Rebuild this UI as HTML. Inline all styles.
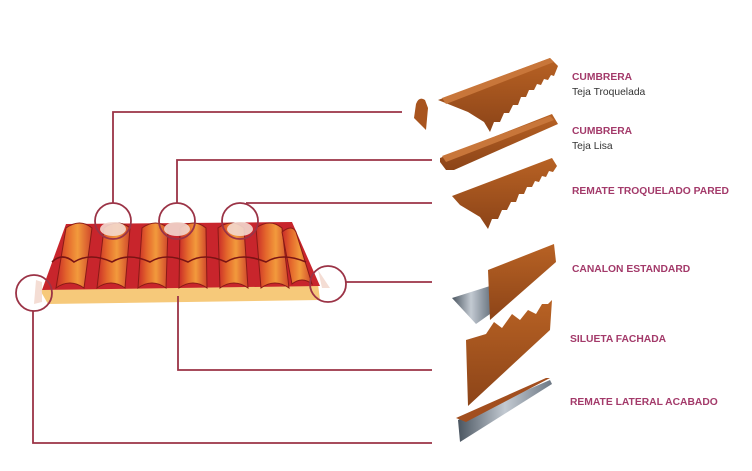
<!DOCTYPE html>
<html><head><meta charset="utf-8"><style>
body{margin:0;background:#fff;}
svg{display:block}
text{font-family:"Liberation Sans",sans-serif;font-weight:bold;font-size:10.3px;fill:#a33a6a}
.s{font-weight:normal;fill:#333}
</style></head><body>
<svg width="752" height="471" viewBox="0 0 752 471">
<defs>
<linearGradient id="t" x1="0" x2="1" y1="0" y2="0">
<stop offset="0" stop-color="#c92a28"/><stop offset="0.3" stop-color="#e4672c"/><stop offset="0.6" stop-color="#f29a3c"/><stop offset="1" stop-color="#d0452a"/>
</linearGradient>
<linearGradient id="b" x1="0" x2="0" y1="0" y2="1">
<stop offset="0" stop-color="#b86224"/><stop offset="1" stop-color="#8c4418"/>
</linearGradient>
<linearGradient id="g" x1="0" x2="1"><stop offset="0" stop-color="#4a5560"/><stop offset="0.5" stop-color="#c3cad2"/><stop offset="1" stop-color="#6d7884"/></linearGradient>
</defs>
<!-- roof -->
<polygon points="40,290 318,284 320,300 48,304" fill="#f6c97a"/>
<polygon points="42,290 66,224 292,222 320,286" fill="#c8252c"/>
<g fill="url(#t)" stroke="#8a1a16" stroke-width="1">
<path d="M66,228 q14,-10 26,0 l-8,60 q-14,-10 -28,0 z"/>
<path d="M104,228 q14,-10 26,0 l-5,60 q-14,-10 -28,0 z"/>
<path d="M142,228 q14,-10 26,0 l-2,60 q-14,-10 -28,0 z"/>
<path d="M180,228 q14,-10 26,0 l1,60 q-14,-10 -28,0 z"/>
<path d="M218,228 q14,-10 26,0 l4,60 q-14,-10 -28,0 z"/>
<path d="M256,228 q14,-10 26,0 l7,60 q-14,-10 -28,0 z"/>
<path d="M282,232 q10,-8 14,0 l16,52 q-10,-8 -20,0 z"/>
</g>
<path d="M52,262 q10,-10 22,0 q16,-10 38,0 q16,-10 38,0 q16,-10 38,0 q16,-10 38,0 q16,-10 40,0 q16,-10 40,0" fill="none" stroke="#7a1414" stroke-width="1.6"/>
<g fill="#f3d9cf" opacity="0.9">
<ellipse cx="113" cy="229" rx="13" ry="7"/><ellipse cx="177" cy="229" rx="13" ry="7"/><ellipse cx="240" cy="229" rx="13" ry="7"/>
<path d="M36,280 l6,2 l0,20 l-8,2 z"/><path d="M318,270 l12,18 l-8,0 z"/>
</g>
<!-- connectors -->
<g fill="none" stroke="#9b3346" stroke-width="1.8">
<circle cx="113" cy="221" r="18"/><circle cx="177" cy="221" r="18"/><circle cx="240" cy="221" r="18"/>
<circle cx="34" cy="293" r="18"/><circle cx="328" cy="284" r="18"/>
<polyline points="113,203 113,112 402,112"/>
<polyline points="177,203 177,160 432,160"/>
<polyline points="246,203 432,203"/>
<polyline points="346,282 432,282"/>
<polyline points="178,296 178,370 432,370"/>
<polyline points="33,311 33,443 432,443"/>
</g>
<!-- products -->
<path d="M416,104 q3,-8 9,-4 l3,8 l-2,22 l-12,-12 z" fill="#a8541e"/>
<path d="M438,100 l112,-42 l8,8 l-4,10 l-3,-1 l-3,5 l-4,-1 l-3,6 l-4,-1 l-3,6 l-5,0 l-3,7 l-5,0 l-3,8 l-5,0 l-4,8 l-5,0 l-4,9 l-6,0 l-4,10 l-6,-10 l-16,-10 z" fill="url(#b)"/>
<path d="M442,98 l108,-40 l4,4 l-108,42 z" fill="#c8763a"/>
<path d="M440,158 l112,-44 l6,10 l-104,46 l-8,0 l-6,-8 z" fill="url(#b)"/>
<path d="M442,156 l108,-40 l4,4 l-108,42 z" fill="#c8763a"/>
<path d="M452,196 l100,-38 l5,8 l-4,6 l-4,-1 l-3,6 l-4,-1 l-3,6 l-4,-1 l-3,6 l-5,0 l-3,7 l-5,0 l-3,8 l-5,0 l-4,8 l-5,0 l-4,9 l-6,0 l-4,10 l-8,-12 l-20,-12 z" fill="url(#b)"/>
<path d="M452,298 l38,-12 l0,28 l-14,10 z" fill="url(#g)"/>
<path d="M488,270 l66,-26 l2,18 l-66,58 z" fill="url(#b)"/>
<path d="M466,340 l20,-6 l8,-12 l8,6 l10,-14 l8,6 l8,-10 l8,4 l6,-10 l6,0 l4,-4 l-2,30 l-82,76 z" fill="url(#b)"/>
<path d="M458,420 l92,-40 l2,4 l-92,58 z" fill="url(#g)"/>
<path d="M456,418 l90,-40 l4,0 l-84,44 z" fill="#a24e1e"/>
<!-- labels -->
<text x="572" y="80">CUMBRERA</text><text class="s" x="572" y="95">Teja Troquelada</text>
<text x="572" y="134">CUMBRERA</text><text class="s" x="572" y="149">Teja Lisa</text>
<text x="572" y="194">REMATE TROQUELADO PARED</text>
<text x="572" y="272">CANALON ESTANDARD</text>
<text x="570" y="342">SILUETA FACHADA</text>
<text x="570" y="405">REMATE LATERAL ACABADO</text>
</svg>
</body></html>
